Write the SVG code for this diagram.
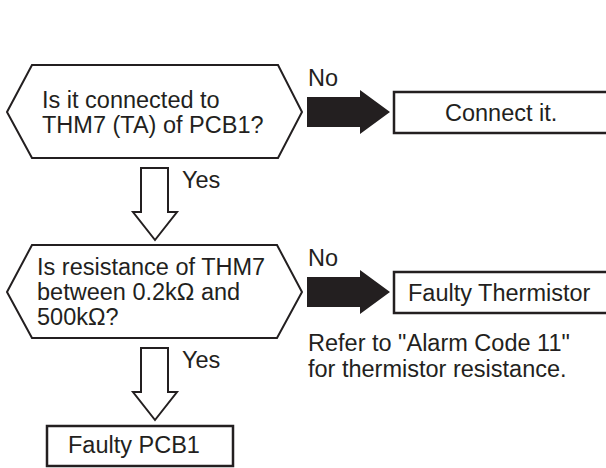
<svg xmlns="http://www.w3.org/2000/svg" width="606" height="468" viewBox="0 0 606 468">
<style>
text{font-family:"Liberation Sans",Arial,sans-serif;font-size:23.5px;fill:#231f20}
.dec{fill:#fff;stroke:#231f20;stroke-width:2}
.box{fill:#fff;stroke:#231f20;stroke-width:2.5}
.hollow{fill:#fff;stroke:#231f20;stroke-width:2}
.solid{fill:#231f20;stroke:none}
</style>
<rect width="606" height="468" fill="#fff"/>
<g id="connectors">
<path class="hollow" d="M141,168 H168 V212 H177 L155,240 L133,212 H141 Z"/>
<path class="hollow" d="M141,348 H168 V392 H177 L155,420 L133,392 H141 Z"/>
<path class="solid" d="M307,97 H360 V90 L390,112 L360,134 V127 H307 Z"/>
<path class="solid" d="M307,277 H360 V270 L390,292 L360,314 V307 H307 Z"/>
<text x="182" y="188">Yes</text>
<text x="182" y="368">Yes</text>
<text x="308" y="86">No</text>
<text x="308" y="266">No</text>
</g>
<g id="q1">
<polygon class="dec" points="7,112 32,65 278,65 302,112 278,158 32,158"/>
<text x="42" y="108">Is it connected to</text>
<text x="42" y="133">THM7 (TA) of PCB1?</text>
</g>
<g id="connect">
<rect class="box" x="394" y="92" width="220" height="41"/>
<text x="445" y="121">Connect it.</text>
</g>
<g id="q2">
<polygon class="dec" points="7,292 32,245 277,245 302,292 277,338 32,338"/>
<text x="37" y="275">Is resistance of THM7</text>
<text x="37" y="300">between 0.2kΩ and</text>
<text x="37" y="325">500kΩ?</text>
</g>
<g id="thermistor">
<rect class="box" x="394" y="272" width="220" height="41"/>
<text x="408" y="301">Faulty Thermistor</text>
<text x="308" y="351">Refer to "Alarm Code 11"</text>
<text x="308" y="377">for thermistor resistance.</text>
</g>
<g id="pcb">
<rect class="box" x="47" y="426" width="186" height="40"/>
<text x="68" y="453">Faulty PCB1</text>
</g>
</svg>
